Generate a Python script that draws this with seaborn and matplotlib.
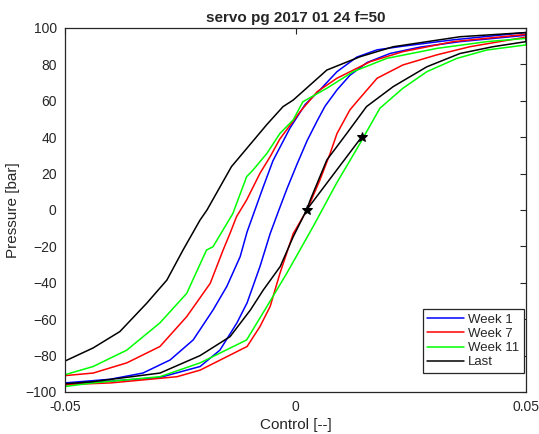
import matplotlib

matplotlib.use("Agg")

import matplotlib.pyplot as plt
import pandas as pd
import seaborn as sns

# Week 1 loop: lower branch left->right, then upper branch right->left
week1_x = [-0.050, -0.040, -0.0294, -0.0207, -0.0164, -0.0127, -0.0105, -0.0077, -0.0055,
           -0.0036, -0.0018, 0.0003, 0.0025, 0.0047, 0.0064, 0.0090, 0.0118, 0.0155, 0.0205,
           0.0270, 0.0357, 0.050,
           0.050, 0.0342, 0.0233, 0.0177, 0.0133, 0.0090, 0.0053, 0.0021, -0.0012, -0.0049,
           -0.0071, -0.0088, -0.0105, -0.0120, -0.0149, -0.0179, -0.0222, -0.0272, -0.0331,
           -0.0402, -0.050]
week1_y = [-96, -94, -92, -86, -77, -62, -51, -31, -13,
           0, 12, 25, 38, 49, 57, 66, 74, 81, 86,
           89.5, 92.5, 96,
           97.5, 93.5, 90, 88, 84, 76, 66, 58, 45, 27,
           12, 0, -12, -25.6, -42, -55, -71.4, -82.4, -89.6,
           -93, -95]

week7_x = [-0.050, -0.040, -0.0257, -0.0207, -0.0105, -0.0077, -0.0055, -0.0034, -0.0005,
           0.0025, 0.0053, 0.0075, 0.0090, 0.0118, 0.0133, 0.0177, 0.0233, 0.0306, 0.0378,
           0.050,
           0.050, 0.0342, 0.0233, 0.0162, 0.0090, 0.0047, 0.0010, -0.0034, -0.0055, -0.0077,
           -0.0106, -0.0128, -0.0142, -0.0157, -0.0185, -0.0236, -0.0294, -0.0366, -0.0439,
           -0.050]
week7_y = [-96, -95, -91.6, -88, -75, -64, -53, -35, -13,
           0, 16.5, 31, 42, 55, 59.5, 72.4, 79.7, 85.2, 89.7,
           95,
           96.5, 92.5, 87, 81.5, 72.4, 65, 54, 39, 29.3, 20.2,
           5.5, -3.7, -12.8, -22, -40.3, -58.6, -75, -84, -89.6,
           -91]

week11_x = [-0.050, -0.0439, -0.0294, -0.0207, -0.0106, -0.0062, -0.0019, 0.0038, 0.0089,
            0.0140, 0.0183, 0.0233, 0.0285, 0.0350, 0.0415, 0.050,
            0.050, 0.0415, 0.0307, 0.0198, 0.0125, 0.0068, 0.0016, -0.0005, -0.0034,
            -0.0062, -0.0092, -0.0106, -0.0136, -0.0179, -0.0193, -0.0236, -0.0294, -0.0366,
            -0.0439, -0.050]
week11_y = [-97, -95, -91.6, -84, -71.4, -53, -34.8, -9.2, 14.7,
            36.6, 55.9, 66.9, 76, 83.3, 87.9, 90.7,
            94.3, 92.5, 88.8, 83.3, 76, 66.9, 59.5, 49.5, 42,
            31.1, 22, 18.3, -2, -20.2, -22, -45.8, -62, -77,
            -86, -90.5]

last_x = [-0.050, -0.0439, -0.0294, -0.0207, -0.0142, -0.0098, -0.0070, -0.0033, -0.0005,
          0.0024, 0.0032, 0.0068, 0.0111, 0.0154, 0.0212, 0.0285, 0.0357, 0.0428, 0.050,
          0.050, 0.0357, 0.0212, 0.0140, 0.0068, -0.0005, -0.0027, -0.0062, -0.0139, -0.0192,
          -0.0207, -0.0244, -0.0279, -0.0323, -0.0381, -0.0439, -0.050]
last_y = [-95.5, -94.3, -89.6, -80, -69.6, -55, -44, -31, -14.7,
          0, 5.5, 27.5, 42, 56.8, 67.8, 78.7, 86, 89.7, 92.5,
          97.5, 95.2, 89.7, 84.2, 76.9, 60.4, 56.8, 47, 23.8, 0,
          -5.5, -22, -38.5, -51.3, -66.8, -75.8, -83]

# start / end points of the last recording (star markers)
last_ends_x = [0.0024, 0.0144]
last_ends_y = [0, 40.3]

series = [
    ("Week 1", week1_x, week1_y, "#0000ff"),
    ("Week 7", week7_x, week7_y, "#ff0000"),
    ("Week 11", week11_x, week11_y, "#00ff00"),
    ("Last", last_x, last_y, "#000000"),
]

sns.set_style("white")
plt.rcParams["font.family"] = ["Liberation Sans", "DejaVu Sans"]

fig = plt.figure(figsize=(5.39, 4.34), dpi=100)
ax = fig.add_axes([0.1206, 0.0968, 0.8553, 0.8387])

for name, xs, ys, col in series:
    df = pd.DataFrame({"x": xs, "y": ys})
    sns.lineplot(data=df, x="x", y="y", sort=False, estimator=None, color=col,
                 linewidth=1.1, label=name, ax=ax)

ends = pd.DataFrame({"x": last_ends_x, "y": last_ends_y})
sns.lineplot(data=ends, x="x", y="y", sort=False, estimator=None, color="black",
             linewidth=1.1, marker="*", markersize=7, markeredgecolor="black",
             legend=False, ax=ax)

ax.set_xlim(-0.05, 0.05)
ax.set_ylim(-100, 100)
ax.set_xticks([-0.05, 0, 0.05])
ax.set_xticklabels(["-0.05", "0", "0.05"])
ax.set_yticks(range(-100, 101, 20))
ax.tick_params(direction="in", top=True, right=True, length=4, width=0.8,
               labelsize=10, colors="#262626", labelcolor="#262626", pad=6)
for sp in ax.spines.values():
    sp.set_color("#262626")
    sp.set_linewidth(0.9)

ax.set_title("servo pg 2017 01 24 f=50", fontsize=11, fontweight="bold", pad=4)
ax.set_xlabel("Control [--]", fontsize=11, color="#262626", labelpad=3)
ax.set_ylabel("Pressure [bar]", fontsize=11, color="#262626", labelpad=4)

leg = ax.legend(loc="lower right", bbox_to_anchor=(0.996, 0.052), borderaxespad=0,
                fontsize=9.5, frameon=True, fancybox=False, framealpha=1,
                edgecolor="#262626", handlelength=2.8, handletextpad=0.3,
                labelspacing=0.15, borderpad=0.35)
leg.get_frame().set_linewidth(0.9)

plt.savefig("out.png", dpi=100)
plt.close()
